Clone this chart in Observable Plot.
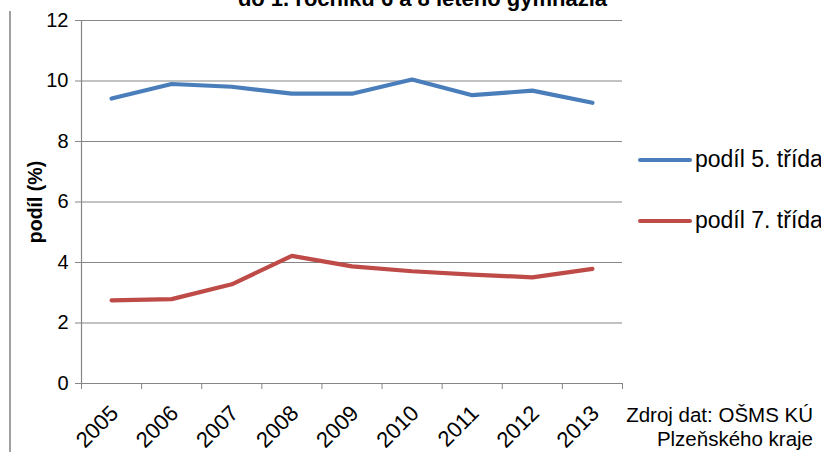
<!DOCTYPE html>
<html>
<head>
<meta charset="utf-8">
<script src="https://cdn.jsdelivr.net/npm/d3@7"></script>
<script src="https://cdn.jsdelivr.net/npm/@observablehq/plot@0.6"></script>
<style>
  html, body { margin: 0; padding: 0; background: #fff; }
  #wrap { position: relative; width: 821px; height: 452px; overflow: hidden; font-family: "Liberation Sans", Arial, sans-serif; }
  #title { position: absolute; left: 0; width: 845px; top: -14px; text-align: center; font-weight: bold; font-size: 22px; line-height: normal; color: #000; white-space: nowrap; }
  #border { position: absolute; left: 9px; top: 11px; width: 0; height: 441px; border-left: 2px solid #a0a0a0; }
  .leg { position: absolute; left: 638px; font-size: 23px; color: #000; white-space: nowrap; display: flex; align-items: center; }
  .leg span.sw { display: inline-block; width: 54px; height: 4px; border-radius: 2px; margin-right: 3px; }
  #caption { position: absolute; right: 8px; top: 403px; font-size: 20.5px; color: #000; text-align: right; line-height: 24px; }
  #chart { position: absolute; left: 0; top: 0; }
</style>
</head>
<body>
<div id="wrap">
  <div id="chart"></div>
  <div id="title">do 1. ročníku 6 a 8 letého gymnázia</div>
  <div id="border"></div>
  <div id="legend"></div>
  <div id="caption">Zdroj dat: OŠMS KÚ<br>Plzeňského kraje</div>
</div>
<script>
const years = [2005, 2006, 2007, 2008, 2009, 2010, 2011, 2012, 2013];
const podil5 = [9.42, 9.9, 9.81, 9.58, 9.58, 10.05, 9.53, 9.68, 9.28];
const podil7 = [2.75, 2.79, 3.28, 4.22, 3.87, 3.71, 3.6, 3.51, 3.79];
const seriesNames = ["podíl 5. třída", "podíl 7. třída"];
const seriesColors = ["#4a7ebb", "#be4b48"];
const yTicks = [0, 2, 4, 6, 8, 10, 12];
const yLabel = "podíl (%)";

const data = [];
years.forEach((yr, i) => {
  data.push({year: yr, value: podil5[i], series: seriesNames[0]});
  data.push({year: yr, value: podil7[i], series: seriesNames[1]});
});
const xDomain = [years[0] - 0.5, years[years.length - 1] + 0.5];
const boundaries = years.map(y => y - 0.5).concat([xDomain[1]]);

const axisColor = "#868686";
const chart = Plot.plot({
  width: 821,
  height: 452,
  marginLeft: 81,
  marginRight: 199,
  marginTop: 20,
  marginBottom: 69,
  style: {fontFamily: "'Liberation Sans', Arial, sans-serif", background: "transparent", overflow: "visible"},
  x: {type: "linear", domain: xDomain},
  y: {domain: [0, 12]},
  color: {domain: seriesNames, range: seriesColors},
  marks: [
    Plot.gridY(yTicks, {stroke: axisColor, strokeOpacity: 1, strokeWidth: 1.2}),
    Plot.ruleX([xDomain[0]], {stroke: axisColor, strokeWidth: 1.2}),
    Plot.axisY(yTicks, {tickSize: 6, stroke: axisColor, tickPadding: 7, fontSize: 20, fill: "#000", label: null}),
    Plot.axisX(boundaries, {tickSize: 6, stroke: axisColor, tickFormat: () => "", label: null}),
    Plot.text(years, {x: d => d, frameAnchor: "bottom", dx: 3, dy: 26, rotate: -45, textAnchor: "end", lineAnchor: "middle", fontSize: 22, fill: "#000", text: d => String(d)}),
    Plot.text([yLabel], {frameAnchor: "left", dx: -46, rotate: -90, textAnchor: "middle", lineAnchor: "middle", fontSize: 19.5, fontWeight: "bold", fill: "#000"}),
    Plot.line(data, {x: "year", y: "value", z: "series", stroke: "series", strokeWidth: 4.2, strokeLinecap: "round", strokeLinejoin: "round"})
  ]
});
document.getElementById("chart").appendChild(chart);

const legend = document.getElementById("legend");
const legTops = [146, 207];
seriesNames.forEach((name, i) => {
  const d = document.createElement("div");
  d.className = "leg";
  d.style.top = legTops[i] + "px";
  d.innerHTML = `<span class="sw" style="background:${seriesColors[i]}"></span>${name}`;
  legend.appendChild(d);
});
</script>
</body>
</html>
